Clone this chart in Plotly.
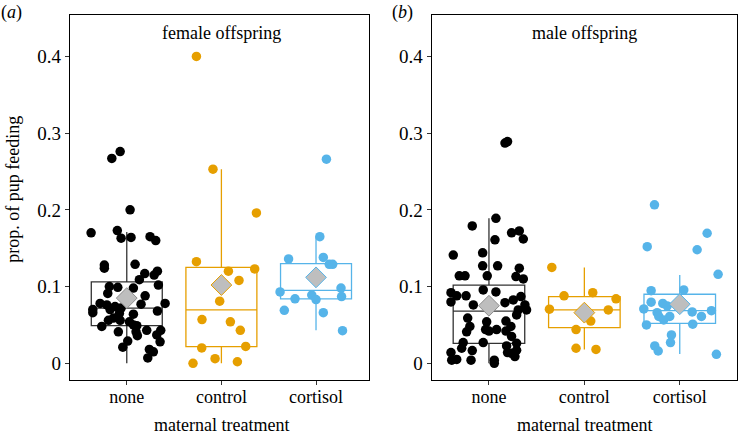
import plotly.graph_objects as go
from plotly.subplots import make_subplots

# categories and colours
categories = ["none", "control", "cortisol"]
group_colors = ["#000000", "#E69F00", "#56B4E9"]

# female offspring: observed values and horizontal jitter (category units)
female_none_y = [0.267, 0.276, 0.200, 0.170, 0.173, 0.163, 0.164, 0.165, 0.160, 0.128,
                 0.124, 0.129, 0.117, 0.115, 0.120, 0.109, 0.102, 0.100, 0.099, 0.098,
                 0.091, 0.088, 0.078, 0.070, 0.066, 0.076, 0.070, 0.074, 0.065, 0.077,
                 0.064, 0.068, 0.078, 0.056, 0.059, 0.056, 0.054, 0.050, 0.049, 0.048,
                 0.041, 0.041, 0.036, 0.043, 0.037, 0.043, 0.028, 0.029, 0.021, 0.018,
                 0.015, 0.007, 0.072, 0.082]
female_none_dx = [-0.158, -0.07, 0.035, -0.377, -0.10, -0.06, 0.045, 0.246, 0.306, -0.237,
                  -0.237, 0.088, 0.19, 0.289, 0.324, 0.133, 0.334, -0.184, -0.095, 0.07,
                  -0.201, 0.194, -0.282, -0.359, -0.359, -0.211, -0.176, -0.124, -0.078, 0.151,
                  0.07, 0.324, 0.405, -0.194, -0.141, -0.07, 0.028, 0.07, 0.106, -0.264,
                  -0.089, 0.098, 0.112, 0.211, 0.317, 0.359, 0.352, 0.01, -0.042, 0.239,
                  0.281, 0.222, -0.06, 0.0]
female_control_y = [0.400, 0.253, 0.196, 0.1325, 0.123, 0.120, 0.108, 0.081, 0.057, 0.054,
                    0.043, 0.020, 0.022, 0.0, 0.006, 0.002]
female_control_dx = [-0.264, -0.089, 0.37, -0.264, 0.352, 0.074, 0.186, -0.018, -0.205, 0.095,
                     0.2, -0.208, 0.257, -0.3, -0.067, 0.169]
female_cortisol_y = [0.266, 0.165, 0.136, 0.138, 0.129, 0.129, 0.093, 0.084, 0.089, 0.083,
                     0.098, 0.087, 0.069, 0.066, 0.0425]
female_cortisol_dx = [0.11, 0.04, -0.29, 0.077, 0.14, 0.176, -0.38, -0.222, -0.045, 0.0,
                      0.264, 0.27, -0.335, 0.077, 0.28]

# male offspring
male_none_y = [0.287, 0.289, 0.189, 0.179, 0.170, 0.1725, 0.162, 0.161, 0.141, 0.144,
               0.127, 0.127, 0.114, 0.114, 0.114, 0.124, 0.113, 0.110, 0.092, 0.088,
               0.080, 0.088, 0.0956, 0.093, 0.079, 0.0826, 0.087, 0.076, 0.0695, 0.0695,
               0.076, 0.063, 0.059, 0.054, 0.055, 0.048, 0.044, 0.042, 0.044, 0.042,
               0.048, 0.041, 0.035, 0.027, 0.027, 0.026, 0.0226, 0.0196, 0.017, 0.013,
               0.014, 0.0165, 0.014, 0.004, 0.005, 0.004, 0.004, 0.0, 0.0087]
male_none_dx = [0.168, 0.195, 0.073, -0.175, 0.237, 0.318, 0.36, 0.063, -0.374, -0.066,
                -0.066, 0.091, -0.311, -0.251, -0.018, 0.318, 0.283, 0.36, -0.398, -0.338,
                -0.398, -0.24, -0.06, 0.073, 0.168, 0.255, 0.335, 0.377, 0.307, 0.394,
                -0.164, 0.29, -0.223, -0.024, 0.178, -0.2, -0.035, 0.0, 0.08, 0.178,
                0.23, -0.234, 0.237, -0.27, -0.06, 0.29, 0.185, -0.286, 0.29, 0.237,
                0.195, -0.175, -0.398, -0.39, -0.338, -0.188, 0.056, 0.056, 0.272]
male_control_y = [0.125, 0.088, 0.092, 0.084, 0.0705, 0.0695, 0.055, 0.044, 0.0196, 0.018]
male_control_dx = [-0.341, -0.213, 0.088, 0.332, -0.366, 0.251, 0.067, -0.087, -0.087, 0.122]
male_cortisol_y = [0.2065, 0.1695, 0.152, 0.148, 0.116, 0.0947, 0.0956, 0.0796, 0.078, 0.0747,
                   0.0708, 0.066, 0.061, 0.061, 0.0565, 0.067, 0.061, 0.0686, 0.050, 0.051,
                   0.037, 0.027, 0.0226, 0.016, 0.0117]
male_cortisol_dx = [-0.265, 0.287, -0.341, 0.182, 0.402, -0.3, 0.042, -0.3, -0.178, -0.132,
                    -0.377, -0.237, -0.22, -0.105, -0.168, 0.13, 0.227, 0.332, -0.349, 0.136,
                    -0.087, -0.097, -0.262, -0.226, 0.384]

# box summaries (none, control, cortisol)
female_q1 = [0.049, 0.0217, 0.084]
female_median = [0.072, 0.0695, 0.095]
female_q3 = [0.106, 0.125, 0.130]
female_lower = [0.0, 0.0, 0.043]
female_upper = [0.171, 0.253, 0.165]
female_mean = [0.085, 0.102, 0.112]

male_q1 = [0.026, 0.0465, 0.052]
male_median = [0.068, 0.0695, 0.0686]
male_q3 = [0.102, 0.087, 0.090]
male_lower = [0.0, 0.018, 0.012]
male_upper = [0.189, 0.125, 0.115]
male_mean = [0.075, 0.066, 0.077]

y_ticks = [0, 0.1, 0.2, 0.3, 0.4]
y_ticktext = ["0", "0.1", "0.2", "0.3", "0.4"]

FONT = "Liberation Serif, Times New Roman, serif"

fig = make_subplots(rows=1, cols=2)


def add_panel(col, points, q1, med, q3, lo, hi, means):
    for i, cat in enumerate(categories):
        ys, dxs = points[i]
        line_col = "#333333" if i == 0 else group_colors[i]
        fig.add_trace(
            go.Box(
                x=[i], q1=[q1[i]], median=[med[i]], q3=[q3[i]],
                lowerfence=[lo[i]], upperfence=[hi[i]],
                width=0.75, whiskerwidth=0,
                line=dict(color=line_col, width=1.3),
                fillcolor="rgba(0,0,0,0)",
                boxpoints=False, showlegend=False, hoverinfo="skip",
            ),
            row=1, col=col,
        )
        fig.add_trace(
            go.Scatter(
                x=[i + d for d in dxs], y=ys, mode="markers",
                marker=dict(color=group_colors[i], size=9.5, line=dict(width=0)),
                showlegend=False,
            ),
            row=1, col=col,
        )
        # group mean as a grey diamond
        fig.add_trace(
            go.Scatter(
                x=[i], y=[means[i]], mode="markers",
                marker=dict(symbol="diamond", size=16, color="#BEBEBE",
                            line=dict(color="#8C8C8C" if i == 0 else group_colors[i], width=1)),
                showlegend=False,
            ),
            row=1, col=col,
        )


add_panel(1,
          [(female_none_y, female_none_dx), (female_control_y, female_control_dx),
           (female_cortisol_y, female_cortisol_dx)],
          female_q1, female_median, female_q3, female_lower, female_upper, female_mean)
add_panel(2,
          [(male_none_y, male_none_dx), (male_control_y, male_control_dx),
           (male_cortisol_y, male_cortisol_dx)],
          male_q1, male_median, male_q3, male_lower, male_upper, male_mean)

axis_common = dict(
    showline=True, mirror=True, linecolor="black", linewidth=1.2,
    showgrid=False, zeroline=False,
    ticks="outside", ticklen=4, tickcolor="#333333", tickwidth=1,
)

fig.update_xaxes(axis_common)
fig.update_yaxes(axis_common)
fig.update_xaxes(tickvals=[0, 1, 2], ticktext=categories, ticklabelstandoff=-4,
                 tickfont=dict(family=FONT, size=18, color="black"))
fig.update_yaxes(tickvals=y_ticks, ticktext=y_ticktext, range=[-0.0218, 0.454],
                 tickfont=dict(family=FONT, size=19, color="black"))

title_font = dict(family=FONT, size=18, color="black")

fig.update_layout(
    width=738,
    height=434,
    margin=dict(l=70, r=1, t=15, b=54),
    plot_bgcolor="white",
    paper_bgcolor="white",
    font=dict(family=FONT, size=18, color="black"),
    xaxis=dict(domain=[0, 0.449], range=[-0.6, 2.565]),
    xaxis2=dict(domain=[0.5423, 1.0], range=[-0.6, 2.6]),
    annotations=[
        dict(text="female offspring", x=1, y=0.431, xref="x", yref="y",
             showarrow=False, font=title_font),
        dict(text="male offspring", x=1, y=0.431, xref="x2", yref="y2",
             showarrow=False, font=title_font),
        dict(text="(<i>a</i>)", x=-0.087, y=1.0075, xref="paper", yref="paper",
             xanchor="center", yanchor="middle", showarrow=False, font=title_font),
        dict(text="(<i>b</i>)", x=0.498, y=1.0075, xref="paper", yref="paper",
             xanchor="center", yanchor="middle", showarrow=False, font=title_font),
        dict(text="maternal treatment", x=1, y=-0.123, xref="x", yref="paper",
             xanchor="center", yanchor="middle", showarrow=False, font=title_font),
        dict(text="maternal treatment", x=1, y=-0.123, xref="x2", yref="paper",
             xanchor="center", yanchor="middle", showarrow=False, font=title_font),
        dict(text="prop. of pup feeding", x=-0.086, y=0.523, xref="paper", yref="paper",
             xanchor="center", yanchor="middle", textangle=-90, showarrow=False,
             font=title_font),
    ],
)

# drop the page's default body margin so the figure sits at the window's corner
fig.write_html("out.html", post_script="document.body.style.margin='0';",
               config={"displayModeBar": False})
